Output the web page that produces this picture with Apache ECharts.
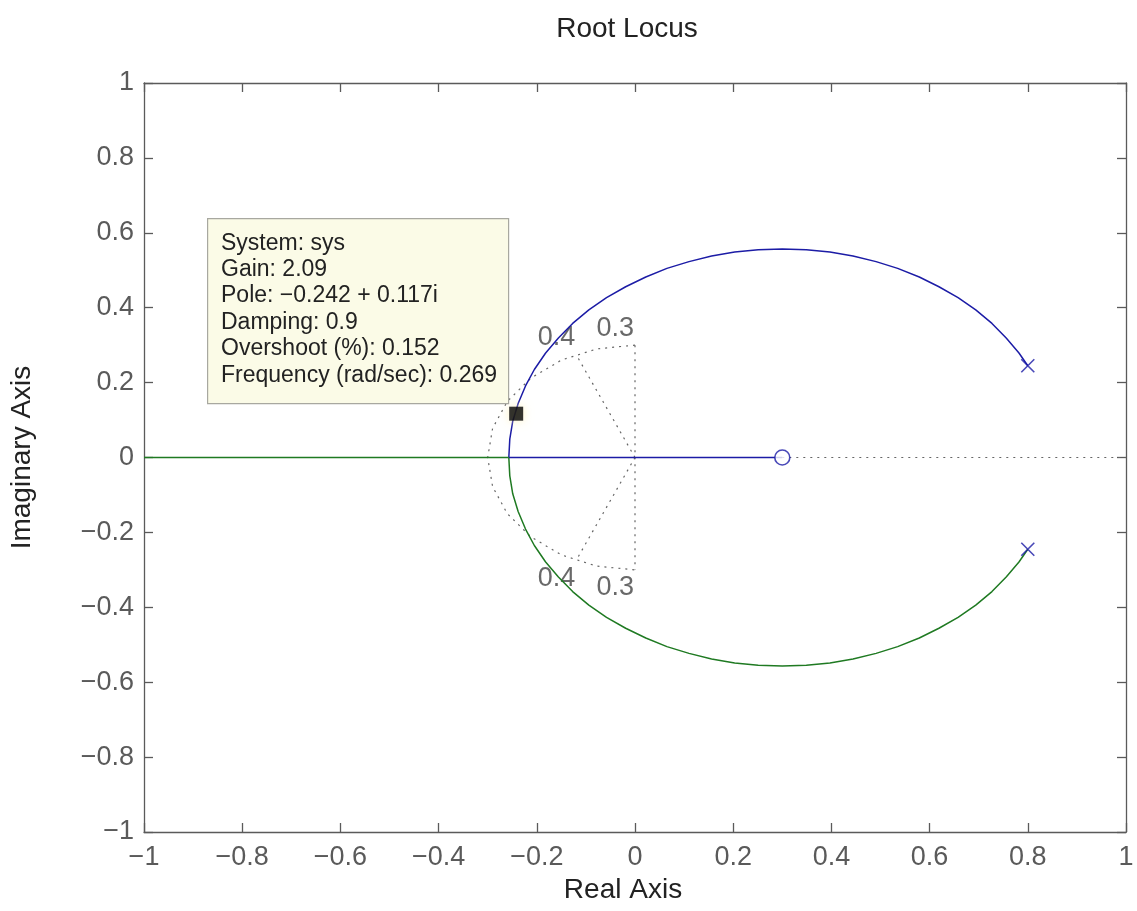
<!DOCTYPE html>
<html>
<head>
<meta charset="utf-8">
<script src="https://cdn.jsdelivr.net/npm/echarts@6/dist/echarts.min.js"></script>
<style>
html,body{margin:0;padding:0;background:#fff;}
#chart{width:1137px;height:911px;}
</style>
</head>
<body>
<div id="chart"></div>
<script>
// ---- data ----
const titleText = 'Root Locus';
const xAxisName = 'Real Axis';
const yAxisName = 'Imaginary Axis';
const xTickLabels = ['−1','−0.8','−0.6','−0.4','−0.2','0','0.2','0.4','0.6','0.8','1'];
const yTickLabels = ['−1','−0.8','−0.6','−0.4','−0.2','0','0.2','0.4','0.6','0.8','1'];

// upper complex branch (blue), from pole to break-in point
const upperBranch = [
  [0.800, 0.245], [0.782, 0.279], [0.756, 0.319], [0.727, 0.358],
  [0.694, 0.394], [0.658, 0.427], [0.619, 0.456], [0.579, 0.482],
  [0.535, 0.505], [0.491, 0.523], [0.444, 0.538], [0.397, 0.549],
  [0.349, 0.555], [0.300, 0.557], [0.251, 0.555], [0.203, 0.549],
  [0.156, 0.538], [0.110, 0.523], [0.065, 0.505], [0.022, 0.482],
  [-0.019, 0.456], [-0.058, 0.427], [-0.094, 0.394], [-0.127, 0.358],
  [-0.156, 0.319], [-0.182, 0.279], [-0.205, 0.235], [-0.223, 0.191],
  [-0.238, 0.144], [-0.249, 0.097], [-0.255, 0.049], [-0.257, 0.000]
];
// lower complex branch (green)
const lowerBranch = [
  [0.800, -0.245], [0.782, -0.279], [0.756, -0.319], [0.727, -0.358],
  [0.694, -0.394], [0.658, -0.427], [0.619, -0.456], [0.579, -0.482],
  [0.535, -0.505], [0.491, -0.523], [0.444, -0.538], [0.397, -0.549],
  [0.349, -0.555], [0.300, -0.557], [0.251, -0.555], [0.203, -0.549],
  [0.156, -0.538], [0.110, -0.523], [0.065, -0.505], [0.022, -0.482],
  [-0.019, -0.456], [-0.058, -0.427], [-0.094, -0.394], [-0.127, -0.358],
  [-0.156, -0.319], [-0.182, -0.279], [-0.205, -0.235], [-0.223, -0.191],
  [-0.238, -0.144], [-0.249, -0.097], [-0.255, -0.049], [-0.257, 0.000]
];
// real-axis branches
const blueRealAxis = [[-0.257, 0], [0.300, 0]];
const greenRealAxis = [[-0.257, 0], [-1.000, 0]];
const dottedRealAxis = [[0.300, 0], [1.000, 0]];

const poles = [[0.800, 0.245], [0.800, -0.245]];
const zeros = [[0.300, 0]];

// damping / frequency grid (dotted)
const wnArc = [
  [0.000, 0.300], [-0.078, 0.290], [-0.150, 0.260], [-0.212, 0.212],
  [-0.260, 0.150], [-0.290, 0.078], [-0.300, 0.000], [-0.290, -0.078],
  [-0.260, -0.150], [-0.212, -0.212], [-0.150, -0.260], [-0.078, -0.290],
  [0.000, -0.300]
];
const zetaLineUpper = [[0.000, 0.000], [-0.120, 0.275]];
const zetaLineLower = [[0.000, 0.000], [-0.120, -0.275]];
const zeroLine = [[0.000, 0.300], [0.000, -0.300]];
const gridLabels = [
  { value: [-0.160, 0.319], text: '0.4' },
  { value: [-0.040, 0.343], text: '0.3' },
  { value: [-0.160, -0.322], text: '0.4' },
  { value: [-0.040, -0.346], text: '0.3' }
];

const selectedPole = [[-0.242, 0.117]];
const dataTipLines = [
  'System: sys',
  'Gain: 2.09',
  'Pole: −0.242 + 0.117i',
  'Damping: 0.9',
  'Overshoot (%): 0.152',
  'Frequency (rad/sec): 0.269'
];

// ---- styles ----
const FONT = "'Liberation Sans', Arial, Helvetica, sans-serif";
const BLUE = '#1c1ca6';
const GREEN = '#1f7a22';
const AXIS = '#5a5a5a';
const LABEL = '#5a5a5a';

function tickFmt(labels) {
  return function (v) {
    const idx = Math.round((v + 1) / 0.2);
    return labels[idx] !== undefined ? labels[idx] : '';
  };
}

const chart = echarts.init(document.getElementById('chart'), null, { renderer: 'canvas' });

const dottedStyle = { color: '#666', width: 1.2, type: [2, 5] };

function lineSeries(data, style, z) {
  return {
    type: 'line', data: data, symbol: 'none', smooth: false,
    lineStyle: style, silent: true, z: z || 2, animation: false
  };
}

const option = {
  animation: false,
  backgroundColor: '#ffffff',
  title: {
    text: titleText,
    left: 622, top: 10, textAlign: 'center',
    textStyle: { fontFamily: FONT, fontSize: 28, fontWeight: 'normal', color: '#222' }
  },
  grid: { left: 143, right: 11, top: 83, bottom: 79, containLabel: false },
  xAxis: [
    {
      type: 'value', min: -1, max: 1, interval: 0.2, position: 'bottom',
      name: xAxisName, nameLocation: 'middle', nameGap: 42,
      nameTextStyle: { fontFamily: FONT, fontSize: 28, color: '#222', padding: [0, 24, 0, 0] },
      axisLine: { show: true, onZero: false, lineStyle: { color: AXIS, width: 1.3 } },
      axisTick: { show: true, inside: true, length: 9, lineStyle: { color: AXIS, width: 1.3 } },
      axisLabel: { formatter: tickFmt(xTickLabels), fontFamily: FONT, fontSize: 27, color: LABEL, margin: 12 },
      splitLine: { show: false }
    },
    {
      type: 'value', min: -1, max: 1, interval: 0.2, position: 'top',
      axisLine: { show: true, onZero: false, lineStyle: { color: AXIS, width: 1.3 } },
      axisTick: { show: true, inside: true, length: 9, lineStyle: { color: AXIS, width: 1.3 } },
      axisLabel: { show: false }, splitLine: { show: false }
    }
  ],
  yAxis: [
    {
      type: 'value', min: -1, max: 1, interval: 0.2, position: 'left',
      name: yAxisName, nameLocation: 'middle', nameGap: 108, nameRotate: 90,
      nameTextStyle: { fontFamily: FONT, fontSize: 28, color: '#222' },
      axisLine: { show: true, onZero: false, lineStyle: { color: AXIS, width: 1.3 } },
      axisTick: { show: true, inside: true, length: 9, lineStyle: { color: AXIS, width: 1.3 } },
      axisLabel: { formatter: tickFmt(yTickLabels), fontFamily: FONT, fontSize: 27, color: LABEL, margin: 10 },
      splitLine: { show: false }
    },
    {
      type: 'value', min: -1, max: 1, interval: 0.2, position: 'right',
      axisLine: { show: true, onZero: false, lineStyle: { color: AXIS, width: 1.3 } },
      axisTick: { show: true, inside: true, length: 9, lineStyle: { color: AXIS, width: 1.3 } },
      axisLabel: { show: false }, splitLine: { show: false }
    }
  ],
  series: [
    lineSeries(dottedRealAxis, dottedStyle, 1),
    lineSeries(wnArc, dottedStyle, 1),
    lineSeries(zetaLineUpper, dottedStyle, 1),
    lineSeries(zetaLineLower, dottedStyle, 1),
    lineSeries(zeroLine, dottedStyle, 1),
    lineSeries(upperBranch, { color: BLUE, width: 1.5 }, 3),
    lineSeries(lowerBranch, { color: GREEN, width: 1.5 }, 3),
    lineSeries(blueRealAxis, { color: BLUE, width: 1.5 }, 3),
    lineSeries(greenRealAxis, { color: GREEN, width: 1.5 }, 3),
    {
      type: 'scatter', data: poles, symbol: 'path://M0,0L10,10M10,0L0,10', symbolSize: 13,
      itemStyle: { color: 'rgba(0,0,0,0)', borderColor: BLUE, borderWidth: 1.6 }, z: 4, silent: true
    },
    {
      type: 'scatter', data: zeros, symbol: 'circle', symbolSize: 15,
      itemStyle: { color: '#ffffff', borderColor: BLUE, borderWidth: 1.6 }, z: 4, silent: true
    },
    {
      type: 'scatter', symbolSize: 0, silent: true, z: 2,
      data: gridLabels.map(g => ({ value: g.value, label: { formatter: g.text } })),
      label: { show: true, position: 'inside', fontFamily: FONT, fontSize: 27, color: '#444' }
    },
    {
      type: 'scatter', data: selectedPole, symbol: 'rect', symbolSize: 14,
      itemStyle: { color: '#000', shadowColor: 'rgba(255,240,170,0.9)', shadowBlur: 10 }, z: 6, silent: true
    }
  ],
  graphic: [
    {
      type: 'rect', left: 207, top: 218, z: 10,
      shape: { width: 301, height: 185 },
      style: { fill: '#fbfbe7', stroke: '#a8a8a0', lineWidth: 1.2 }
    },
    {
      type: 'text', left: 221, top: 230, z: 11,
      style: {
        text: dataTipLines.join('\n'), fontFamily: FONT, fontSize: 23,
        lineHeight: 26.4, fill: '#222'
      }
    }
  ]
};

chart.setOption(option);
</script>
</body>
</html>
